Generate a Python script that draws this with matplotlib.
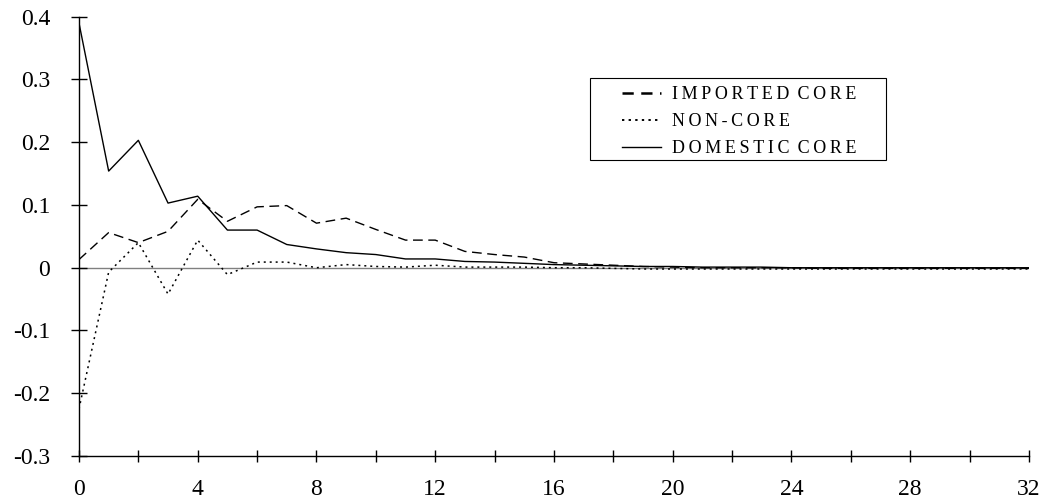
import numpy as np
import matplotlib
matplotlib.use("Agg")
import matplotlib.pyplot as plt
from matplotlib.patches import Rectangle

# horizon (periods) and impulse responses
periods = np.arange(0, 33)

imported_core = [0.013, 0.056, 0.040, 0.058, 0.109, 0.074, 0.097, 0.099, 0.071, 0.079,
                 0.061, 0.044, 0.044, 0.026, 0.021, 0.017, 0.008, 0.006, 0.004, 0.002,
                 0.001, 0.000, 0.000, 0.000, 0.000, -0.001, -0.001, -0.001, -0.001, -0.001,
                 -0.001, -0.001, -0.001]
non_core = [-0.225, -0.007, 0.040, -0.042, 0.044, -0.011, 0.009, 0.009, 0.000, 0.005,
            0.002, 0.001, 0.004, 0.001, 0.001, 0.001, 0.000, 0.000, -0.001, -0.002,
            -0.002, -0.002, -0.002, -0.002, -0.002, -0.002, -0.002, -0.002, -0.002, -0.002,
            -0.002, -0.002, -0.002]
domestic_core = [0.390, 0.154, 0.203, 0.103, 0.114, 0.060, 0.060, 0.037, 0.030, 0.024,
                 0.021, 0.014, 0.014, 0.010, 0.009, 0.007, 0.005, 0.004, 0.003, 0.002,
                 0.002, 0.001, 0.001, 0.001, 0.000, 0.000, 0.000, 0.000, 0.000, 0.000,
                 0.000, 0.000, 0.000]

series_labels = ["IMPORTED CORE", "NON-CORE", "DOMESTIC CORE"]

x_ticks = np.arange(0, 33, 2)
x_labels = [str(v) if v % 4 == 0 else "" for v in x_ticks]
y_ticks = np.round(np.arange(-0.3, 0.41, 0.1), 1)
y_labels = ["0" if v == 0 else f"{v:.1f}" for v in y_ticks]

plt.rcParams["font.family"] = ["Liberation Serif", "DejaVu Serif"]

fig = plt.figure(figsize=(10.46, 5.04), dpi=100)
ax = fig.add_axes([0.0755, 0.0952, 0.9082, 0.8717])

ax.axhline(0, color="#808080", lw=1.0, zorder=1)

ax.plot(periods, imported_core, color="black", lw=1.0, dashes=(7, 4), label=series_labels[0])
ax.plot(periods, non_core, color="black", lw=1.1, dashes=(1.3, 2.6), label=series_labels[1])
ax.plot(periods, domestic_core, color="black", lw=1.0, label=series_labels[2])

ax.set_xlim(0, 32)
ax.set_ylim(-0.3, 0.4)
ax.set_xticks(x_ticks)
ax.set_xticklabels(x_labels)
ax.set_yticks(y_ticks)
ax.set_yticklabels(y_labels)

for side in ["top", "right"]:
    ax.spines[side].set_visible(False)
for side in ["left", "bottom"]:
    ax.spines[side].set_color("black")
    ax.spines[side].set_linewidth(1.0)

ax.tick_params(axis="both", direction="inout", width=1.0, labelsize=17)
ax.tick_params(axis="x", length=8.6, pad=12)
ax.tick_params(axis="y", length=11.5, pad=15)

# legend without its own frame, box drawn separately to get the wide left padding
leg = ax.legend(loc="upper left", bbox_to_anchor=(622 / 1046, 1 - 86 / 504),
                bbox_transform=fig.transFigure, frameon=False, fontsize=13,
                handlelength=2.15, handletextpad=0.6, borderpad=0, borderaxespad=0,
                labelspacing=0.55)
# letter-spaced legend labels (thin spaces between letters)
for t in leg.get_texts():
    words = t.get_text().split(" ")
    t.set_text(" \u2009".join("\u2009".join(w) for w in words))
handles = leg.get_lines()
handles[0].set_linewidth(1.8)
handles[0].set_dashes((4.5, 3))
handles[1].set_linewidth(1.4)
handles[1].set_dashes((1.2, 2.2))
fig.patches.append(Rectangle((590 / 1046, 1 - 160 / 504), 296 / 1046, 82 / 504,
                             transform=fig.transFigure, fill=False,
                             edgecolor="black", lw=0.8))

fig.savefig("out.png", dpi=100)
